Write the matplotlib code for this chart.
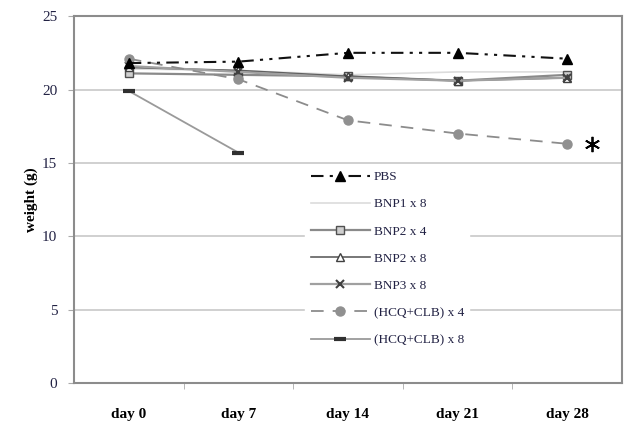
import numpy as np
import matplotlib
matplotlib.use('Agg')
import matplotlib.pyplot as plt

days = ['day 0', 'day 7', 'day 14', 'day 21', 'day 28']

pbs = [21.8, 21.9, 22.5, 22.5, 22.1]
bnp1_x8 = [21.4, 21.3, 21.0, 21.2, 21.2]
bnp2_x4 = [21.1, 21.0, 20.9, 20.6, 21.0]
bnp2_x8 = [21.5, 21.3, 20.9, 20.6, 20.8]
bnp3_x8 = [21.6, 21.2, 20.8, 20.6, 20.8]
hcq_x4 = [22.1, 20.7, 17.9, 17.0, 16.3]
hcq_x8 = [19.9, 15.7]

plt.rcParams['font.family'] = ['Liberation Serif', 'DejaVu Serif']

fig = plt.figure(figsize=(6.24, 4.25), dpi=100)
ax = fig.add_axes([0.1186, 0.099, 0.878, 0.863])

x = np.arange(len(days))
ax.plot(x, pbs, color='#111111', ls=(0, (6, 3, 1.5, 3, 1.5, 3)), lw=1.5,
        marker='^', ms=6.5, mfc='black', mec='black', label='PBS', zorder=5)
ax.plot(x, bnp1_x8, color='#dcdcdc', lw=1.2, label='BNP1 x 8', zorder=3)
ax.plot(x, bnp2_x4, color='#8a8a8a', lw=1.6, marker='s', ms=5.5, mfc='#cfcfcf',
        mec='#505050', label='BNP2 x 4', zorder=4)
ax.plot(x, bnp2_x8, color='#606060', lw=1.2, marker='^', ms=5.5, mfc='white',
        mec='#404040', label='BNP2 x 8', zorder=4)
ax.plot(x, bnp3_x8, color='#a0a0a0', lw=1.6, marker='x', ms=5.5, mew=1.5,
        mec='#404040', label='BNP3 x 8', zorder=4)
ax.plot(x, hcq_x4, color='#8c8c8c', ls=(0, (7, 5)), lw=1.3, marker='o', ms=6.5,
        mfc='#909090', mec='#909090', label='(HCQ+CLB) x 4', zorder=4)
ax.plot(x[:len(hcq_x8)], hcq_x8, color='#9a9a9a', lw=1.3, marker='_', ms=9,
        mew=3, mec='#303030', label='(HCQ+CLB) x 8', zorder=4)

# significance mark next to the last (HCQ+CLB) x 4 point
ax.plot([4.23], [hcq_x4[-1]], marker=(6, 2, 0), ms=11, mew=1.3, color='black',
        ls='none', zorder=6)

ax.set_xlim(-0.5, 4.5)
ax.set_ylim(0, 25)
ax.set_yticks(range(0, 26, 5))
ax.set_xticks(x)
ax.set_xticklabels(days, fontsize=11, fontweight='bold')
ax.set_xticks(np.arange(0.5, 4.5, 1), minor=True)
ax.tick_params(axis='x', which='major', length=0, pad=18)
ax.tick_params(axis='x', which='minor', length=4, color='#aaaaaa')
ax.tick_params(axis='y', length=4, color='#aaaaaa', labelsize=11,
               labelcolor='#222244', pad=8)
ax.set_ylabel('weight (g)', fontsize=11, fontweight='bold', labelpad=3)

ax.yaxis.grid(True, color='#c8c8c8', lw=1.2)
ax.set_axisbelow(True)
for s in ax.spines.values():
    s.set_color('#8c8c8c')
    s.set_linewidth(1.5)

leg = ax.legend(loc='upper left', bbox_to_anchor=(0.41, 0.61), frameon=True,
                fontsize=9.5, handlelength=4.5, labelspacing=1.13,
                borderpad=0.4, handletextpad=0.3)
leg.get_frame().set_edgecolor('white')
leg.get_frame().set_facecolor('white')
leg.get_frame().set_alpha(1)
for t in leg.get_texts():
    t.set_color('#222244')

fig.savefig('out.png', dpi=100)
